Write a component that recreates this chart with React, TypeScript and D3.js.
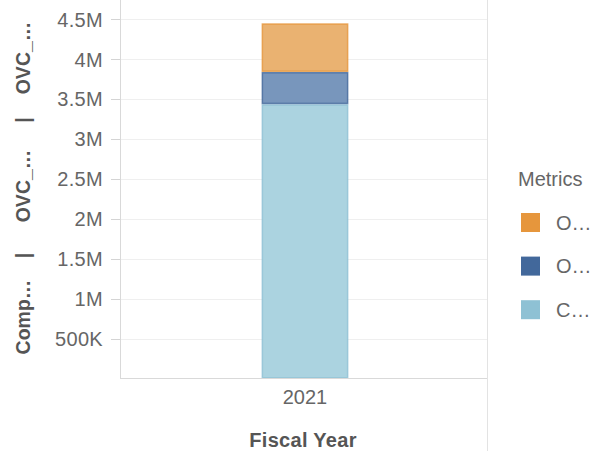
import React from "react";
import * as d3 from "d3";

const categories = ["2021"];
const seriesNames = ["O…", "O…", "C…"];
const seriesColors = ["#E6963C", "#42689B", "#8EC1D4"];
const seriesFills = ["#EAB271", "#7896BC", "#ABD3E0"];
// stacked from bottom: C (light), O (dark blue), O (orange)
const valuesC = [3438000];
const valuesOBlue = [404000];
const valuesOOrange = [610000];
const tickValues = [500000, 1000000, 1500000, 2000000, 2500000, 3000000, 3500000, 4000000, 4500000];
const tickLabels = ["500K", "1M", "1.5M", "2M", "2.5M", "3M", "3.5M", "4M", "4.5M"];

const W = 614;
const H = 451;
const FONT = "'Liberation Sans', Arial, sans-serif";

export default function App() {
  const left = 120;
  const right = 487;
  const bottom = 378.5;
  const y = d3.scaleLinear().domain([0, 4744000]).range([bottom, 0]);
  const x = d3.scaleBand().domain(categories).range([left, 490]).paddingInner(0.62).paddingOuter(0.62);

  const rows = categories.map((c, i) => ({
    cat: c,
    c: valuesC[i],
    b: valuesOBlue[i],
    o: valuesOOrange[i],
  }));
  const stack = d3.stack<any>().keys(["c", "b", "o"])(rows);
  const keyColor: Record<string, number> = { c: 2, b: 1, o: 0 };

  return (
    <svg width={W} height={H} style={{ position: "absolute", left: 0, top: 0, fontFamily: FONT }}>
      <rect x={0} y={0} width={W} height={H} fill="#fff" />
      {/* gridlines */}
      {tickValues.map((t) => (
        <line key={t} x1={left} x2={right} y1={Math.round(y(t)) + 0.5} y2={Math.round(y(t)) + 0.5} stroke="#EFEFEF" strokeWidth={1} />
      ))}
      {/* ticks */}
      {tickValues.map((t, i) => (
        <g key={"t" + t}>
          <line x1={111} x2={left} y1={Math.round(y(t)) + 0.5} y2={Math.round(y(t)) + 0.5} stroke="#D4D4D4" />
          <text x={103} y={y(t)} dy="0.36em" textAnchor="end" fontSize={20} letterSpacing={0.3} fill="#666">
            {tickLabels[i]}
          </text>
        </g>
      ))}
      {/* bars */}
      {stack.map((layer) => {
        const ci = keyColor[layer.key];
        return layer.map((d, j) => (
          <rect
            key={layer.key + j}
            x={(x(d.data.cat) as number) + 0.75}
            y={y(d[1]) + 0.75}
            width={x.bandwidth() - 1.5}
            height={Math.max(0, y(d[0]) - y(d[1]) - 1.5)}
            fill={seriesFills[ci]}
            stroke={seriesColors[ci]}
            strokeWidth={1.5}
            strokeOpacity={0.8}
          />
        ));
      })}
      {/* axes lines */}
      <line x1={left + 0.5} x2={left + 0.5} y1={0} y2={bottom} stroke="#D9D9D9" />
      <line x1={left} x2={right} y1={bottom} y2={bottom} stroke="#D9D9D9" />
      <line x1={right + 0.5} x2={right + 0.5} y1={0} y2={H} stroke="#E3E3E3" />
      {/* x labels */}
      {categories.map((c) => (
        <text key={c} x={(x(c) as number) + x.bandwidth() / 2} y={403.5} textAnchor="middle" fontSize={20} fill="#666">
          {c}
        </text>
      ))}
      <text x={303} y={446.5} textAnchor="middle" fontSize={20} fontWeight="bold" letterSpacing={0.3} fill="#555">
        Fiscal Year
      </text>
      {/* y title */}
      {[
        { t: "Comp…", c: 317 },
        { t: "|", c: 255.5 },
        { t: "OVC_…", c: 186 },
        { t: "|", c: 120 },
        { t: "OVC_…", c: 58 },
      ].map((p, i) => (
        <text key={i} transform={`translate(29.5,${p.c}) rotate(-90)`} textAnchor="middle" fontSize={19.5} fontWeight="bold" fill="#555">
          {p.t}
        </text>
      ))}
      {/* legend */}
      <text x={518} y={186} fontSize={20} fill="#666">
        Metrics
      </text>
      {seriesNames.map((n, i) => (
        <g key={i} transform={`translate(521,${213 + i * 43.6})`}>
          <rect x={0} y={0} width={19} height={19} fill={seriesColors[i]} />
          <text x={35} y={9.5} dy="0.36em" fontSize={20} fill="#666">
            {n}
          </text>
        </g>
      ))}
    </svg>
  );
}
